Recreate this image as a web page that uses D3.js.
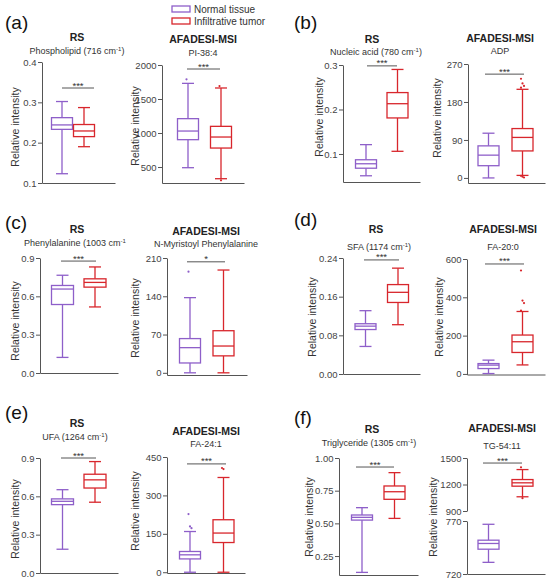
<!DOCTYPE html>
<html><head><meta charset="utf-8">
<script src="https://cdn.jsdelivr.net/npm/d3@7"></script>
<style>
body{margin:0;background:#fff}
svg{display:block}
text{font-family:"Liberation Sans",Arial,Helvetica,sans-serif}
</style>
</head><body>
<svg id="chart" width="546" height="579"></svg>
<script>
// ---------------- DATA ----------------
const groups = ["Normal tissue", "Infiltrative tumor"];
const panelLetters = ["(a)", "(b)", "(c)", "(d)", "(e)", "(f)"];
const methods = ["RS", "AFADESI-MSI", "RS", "AFADESI-MSI", "RS", "AFADESI-MSI",
                 "RS", "AFADESI-MSI", "RS", "AFADESI-MSI", "RS", "AFADESI-MSI"];
const features = ["Phospholipid (716 cm⁻¹)", "PI-38:4", "Nucleic acid (780 cm⁻¹)", "ADP",
                  "Phenylalanine (1003 cm⁻¹", "N-Myristoyl Phenylalanine", "SFA (1174 cm⁻¹)", "FA-20:0",
                  "UFA (1264 cm⁻¹)", "FA-24:1", "Triglyceride (1305 cm⁻¹)", "TG-54:11"];
// [min, Q1, median, Q3, max]
const normalStats = [
  [0.123, 0.233, 0.244, 0.262, 0.302],
  [490, 902, 1029, 1211, 1730],
  [0.051, 0.068, 0.078, 0.087, 0.121],
  [0, 29, 54, 76, 106],
  [0.122, 0.536, 0.657, 0.685, 0.765],
  [0, 18, 46, 62.6, 137.5],
  [0.057, 0.092, 0.099, 0.104, 0.131],
  [2, 28, 46, 54, 72],
  [0.186, 0.535, 0.561, 0.58, 0.652],
  [0, 52, 68, 81, 159],
  [0.125, 0.525, 0.546, 0.564, 0.62],
  [731, 743.4, 748.8, 751.9, 766.9]
];
const tumorStats = [
  [0.19, 0.215, 0.229, 0.245, 0.287],
  [328, 779, 941, 1098, 1662],
  [0.106, 0.181, 0.213, 0.238, 0.290],
  [6, 64, 96, 117, 210],
  [0.517, 0.672, 0.709, 0.737, 0.83],
  [0, 31, 49, 77, 188],
  [0.102, 0.148, 0.169, 0.185, 0.219],
  [47, 112, 168, 203, 326],
  [0.554, 0.665, 0.729, 0.773, 0.872],
  [0, 116, 153, 205, 370],
  [0.538, 0.684, 0.742, 0.786, 0.888],
  [1061, 1181, 1219, 1256, 1369]
];
const normalOutliers = [[], [1790], [], [], [], [185], [], [], [], [227, 179, 172], [], []];
const tumorOutliers = [[], [1690, 305], [], [235, 224, 218, 214, 3, 1, 5], [], [], [], [540, 383, 370, 330], [], [407, 403], [], [1395, 1045]];
const significance = ["***", "***", "***", "***", "***", "*", "***", "***", "***", "***", "***", "***"];
const sigLevels = [0.3355, 1941, 0.298, 246, 0.876, 203, 0.236, 574, 0.9, 423, 0.931, 1443];
// tick values per axis segment
const tickValues = [
  [[0.1, 0.2, 0.3, 0.4]],
  [[500, 1000, 1500, 2000]],
  [[0.1, 0.2, 0.3]],
  [[0, 90, 180, 270]],
  [[0, 0.3, 0.6, 0.9]],
  [[0, 70, 140, 210]],
  [[0, 0.08, 0.16, 0.24]],
  [[0, 200, 400, 600]],
  [[0, 0.3, 0.6, 0.9]],
  [[0, 150, 300, 450]],
  [[0.25, 0.5, 0.75, 1.0]],
  [[720, 770], [900, 1200, 1500]]
];
const axisDomains = [
  [[0.1, 0.4]], [[265, 2000]], [[0.037, 0.3]], [[-12, 270]],
  [[0, 0.9]], [[-4, 210]], [[0, 0.24]], [[-3, 600]],
  [[0, 0.9]], [[-3, 450]], [[0.105, 1.0]], [[720, 770], [900, 1500]]
];
const tickFormats = [".1f", "d", ".1f", "d", ".1f", "d", ".2f", "d", ".1f", "d", ".2f", "d"];

// ---------------- LAYOUT ----------------
const layout = [
  {ax: 42, xr: 115, rng: [[183, 62]], c: [62, 84], bw: 21, sig: [62, 94], t: [77, 37], s: [77, 51], yl: [15, 127]},
  {ax: 162, xr: 244, rng: [[183, 65]], c: [188, 221], bw: 21, sig: [187, 220], t: [203, 39], s: [203, 53], yl: [135, 126]},
  {ax: 343, xr: 420, rng: [[182, 65]], c: [366, 397.5], bw: 21, sig: [367, 397], t: [372, 39], s: [376, 52], yl: [319, 117]},
  {ax: 468, xr: 545, rng: [[183, 64]], c: [488.5, 522.5], bw: 21, sig: [485, 524], t: [500, 38], s: [500, 51], yl: [437, 118]},
  {ax: 40, xr: 118, rng: [[373, 258]], c: [62.5, 95], bw: 22, sig: [61, 96], t: [77, 229], s: [75, 243], yl: [15, 321]},
  {ax: 167, xr: 247, rng: [[375, 258]], c: [190, 223.5], bw: 21, sig: [187, 225], t: [206, 231], s: [206, 244], yl: [135, 318]},
  {ax: 343, xr: 420, rng: [[374, 258]], c: [365.5, 398], bw: 21, sig: [364, 399], t: [376, 229], s: [379, 247], yl: [312, 317]},
  {ax: 467, xr: 545, rng: [[374.5, 259]], c: [488.5, 522.5], bw: 21, sig: [485, 524], t: [503, 229], s: [503, 247], yl: [439, 317]},
  {ax: 40, xr: 118, rng: [[573, 458]], c: [62.5, 95], bw: 22, sig: [61, 96], t: [77, 423], s: [75, 437], yl: [15, 519]},
  {ax: 167, xr: 245, rng: [[573, 457]], c: [190, 223.5], bw: 21, sig: [187, 226], t: [206, 431], s: [206, 444], yl: [135, 511]},
  {ax: 339, xr: 418, rng: [[575, 458]], c: [362, 394.5], bw: 21, sig: [356, 394], t: [372, 429], s: [369, 443], yl: [309, 517]},
  {ax: 467, xr: 545, rng: [[574, 521], [511, 458]], c: [488.5, 522.5], bw: 21, sig: [483, 522], t: [502, 428], s: [502, 446], yl: [433, 517]}
];
const letterPos = [[5, 22], [294, 22], [5, 222], [294, 219], [5, 412], [294, 417]];
const colors = ["#8e5fc9", "#d8262c"];
const axisColor = "#555";
const textColor = "#333";

const svg = d3.select("#chart");

function addFeature(sel, str) {
  const parts = str.split("⁻¹");
  sel.append("tspan").text(parts[0]);
  if (parts.length > 1) {
    sel.append("tspan").attr("font-size", 6).attr("dy", -3.5).text("-1");
    sel.append("tspan").attr("dy", 3.5).text(parts[1]);
  }
}

function drawPanel(i) {
  const L = layout[i];
  const g = svg.append("g");
  const scales = axisDomains[i].map((d, k) => d3.scaleLinear().domain(d).range(L.rng[k]));
  const pick = v => {
    for (let k = scales.length - 1; k >= 0; k--) {
      const d = axisDomains[i][k];
      if (v >= Math.min(d[0], d[1]) - 1e-9 && v <= Math.max(d[0], d[1]) + 1e-9) return scales[k];
    }
    return scales[0];
  };
  const topScale = scales[scales.length - 1];

  scales.forEach((sc, k) => {
    const axis = d3.axisLeft(sc).tickValues(tickValues[i][k]).tickSize(4).tickSizeOuter(0)
      .tickFormat(d3.format(tickFormats[i]));
    const ag = g.append("g").attr("transform", `translate(${L.ax},0)`).call(axis);
    ag.select(".domain").attr("stroke", axisColor).attr("stroke-width", 1);
    ag.selectAll(".tick line").attr("stroke", axisColor);
    ag.selectAll(".tick text").attr("fill", "#444").attr("font-size", 9.5)
      .attr("font-family", '"Liberation Sans",Arial,sans-serif').attr("x", -5.5);
  });
  // bottom axis
  const xAxisScale = d3.scaleLinear().domain([0, 1]).range([L.ax, L.xr]);
  const bottomY = L.rng[0][0];
  g.append("g").attr("transform", `translate(0,${bottomY})`)
    .call(d3.axisBottom(xAxisScale).tickValues([]).tickSizeOuter(0))
    .select(".domain").attr("stroke", axisColor).attr("stroke-width", 1);

  const x = d3.scalePoint().domain(groups).range(L.c);
  const statsArr = [normalStats[i], tumorStats[i]];
  const outArr = [normalOutliers[i], tumorOutliers[i]];
  groups.forEach((grp, gi) => {
    const s = statsArr[gi];
    const y = pick(s[2]);
    const cx = x(grp);
    const col = colors[gi];
    const bg = g.append("g").attr("stroke", col).attr("stroke-width", 1.3).attr("fill", "none");
    const cap = 6;
    bg.append("line").attr("x1", cx).attr("x2", cx).attr("y1", y(s[3])).attr("y2", y(s[4]));
    bg.append("line").attr("x1", cx).attr("x2", cx).attr("y1", y(s[1])).attr("y2", y(s[0]));
    bg.append("line").attr("x1", cx - cap).attr("x2", cx + cap).attr("y1", y(s[4])).attr("y2", y(s[4]));
    bg.append("line").attr("x1", cx - cap).attr("x2", cx + cap).attr("y1", y(s[0])).attr("y2", y(s[0]));
    bg.append("rect").attr("x", cx - L.bw / 2).attr("width", L.bw)
      .attr("y", y(s[3])).attr("height", y(s[1]) - y(s[3])).attr("fill", "#fff");
    bg.append("line").attr("x1", cx - L.bw / 2).attr("x2", cx + L.bw / 2).attr("y1", y(s[2])).attr("y2", y(s[2]));
    g.selectAll(null).data(outArr[gi]).enter().append("circle")
      .attr("cx", (d, j) => cx + ((j % 3) - 1) * 1.5).attr("cy", d => pick(d)(d)).attr("r", 1.1).attr("fill", col);
  });

  // significance
  const sy = topScale(sigLevels[i]);
  g.append("line").attr("x1", L.sig[0]).attr("x2", L.sig[1]).attr("y1", sy).attr("y2", sy)
    .attr("stroke", "#555").attr("stroke-width", 1);
  g.append("text").attr("x", (L.sig[0] + L.sig[1]) / 2).attr("y", sy + 0.5)
    .attr("text-anchor", "middle").attr("font-size", 9.5).attr("fill", textColor).text(significance[i]);

  // titles
  g.append("text").attr("x", L.t[0]).attr("y", L.t[1]).attr("dy", "0.35em").attr("text-anchor", "middle")
    .attr("font-weight", "bold").attr("font-size", 10.5).attr("fill", "#222").text(methods[i]);
  const st = g.append("text").attr("x", L.s[0]).attr("y", L.s[1]).attr("dy", "0.35em").attr("text-anchor", "middle")
    .attr("font-size", 9).attr("fill", textColor);
  addFeature(st, features[i]);

  // y label
  g.append("text").attr("transform", `translate(${L.yl[0]},${L.yl[1]}) rotate(-90)`)
    .attr("dy", "0.35em").attr("text-anchor", "middle").attr("font-size", 10.5).attr("fill", textColor)
    .text("Relative intensity");
}

for (let i = 0; i < 12; i++) drawPanel(i);

// panel letters
svg.selectAll(".letter").data(panelLetters).enter().append("text")
  .attr("class", "letter")
  .attr("x", (d, i) => letterPos[i][0]).attr("y", (d, i) => letterPos[i][1]).attr("dy", "0.35em")
  .attr("font-size", 19).attr("fill", "#111").text(d => d);

// legend
const leg = svg.append("g");
groups.forEach((grp, gi) => {
  const yy = 9 + gi * 12;
  leg.append("rect").attr("x", 172).attr("y", yy - 3).attr("width", 18).attr("height", 6)
    .attr("fill", "none").attr("stroke", colors[gi]).attr("stroke-width", 1.3);
  leg.append("text").attr("x", 194).attr("y", yy).attr("dy", "0.35em").attr("font-size", 10)
    .attr("fill", textColor).text(grp);
});
</script>
</body></html>
